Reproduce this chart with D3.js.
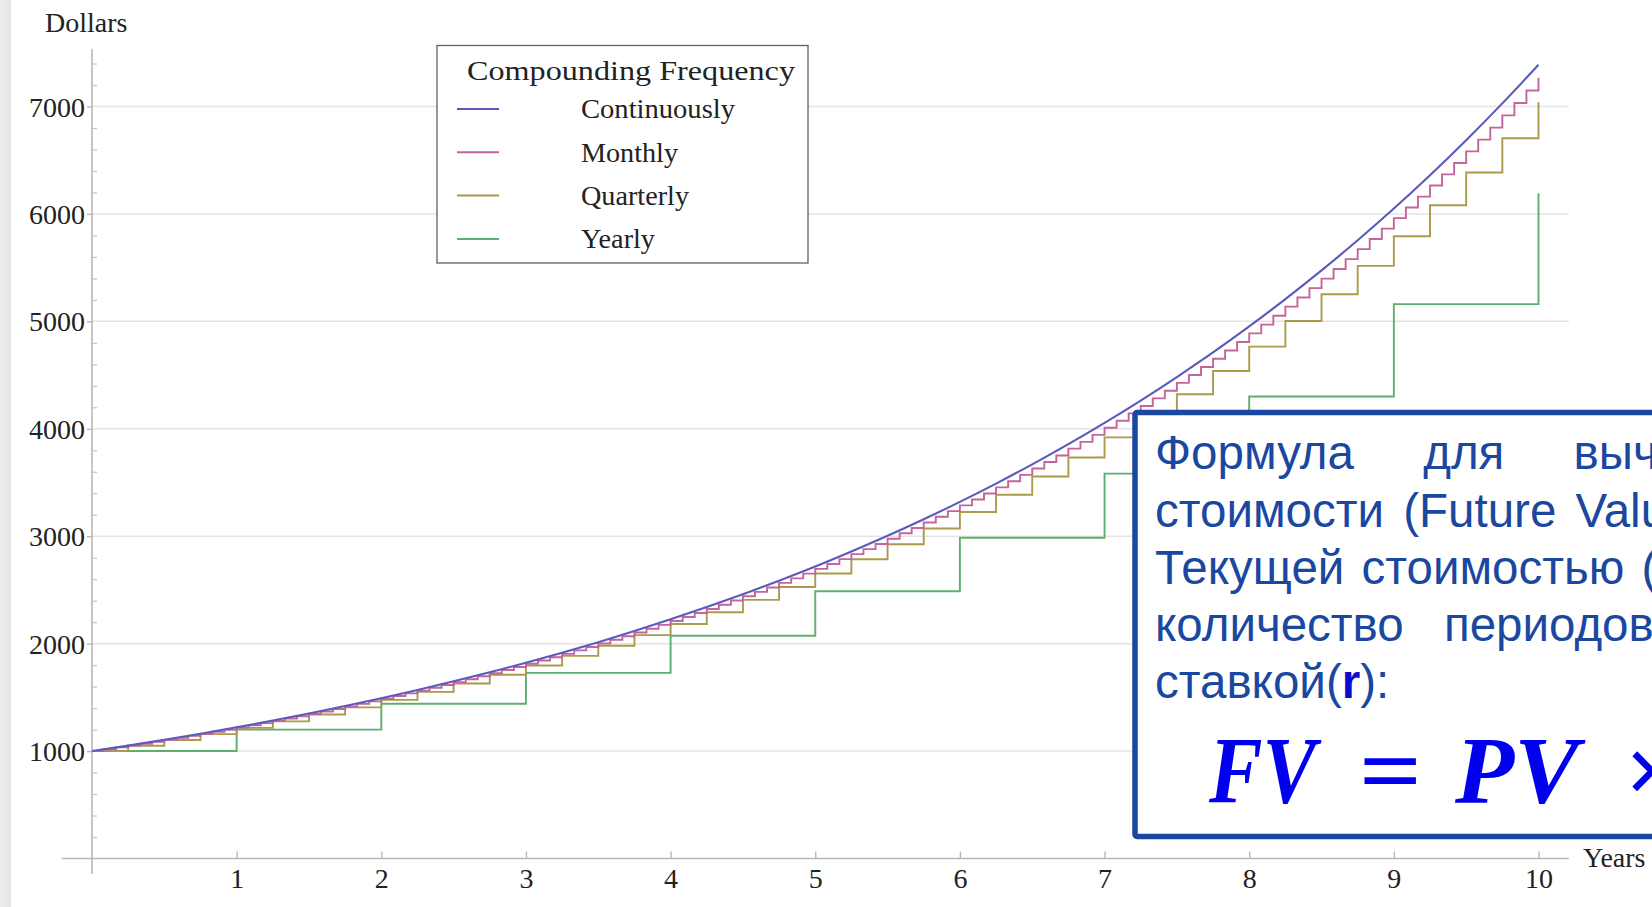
<!DOCTYPE html>
<html><head><meta charset="utf-8">
<script src="https://cdn.jsdelivr.net/npm/d3@7"></script>
<style>html,body{margin:0;padding:0;background:#fff;overflow:hidden}</style>
</head><body>
<svg id="c" width="1652" height="907"></svg>
<script>
// ---------- data ----------
const seriesNames = ["Continuously", "Monthly", "Quarterly", "Yearly"];
const seriesColors = ["#5a5abc", "#c4649a", "#aa9a4a", "#5eae6e"];
const periodsPerYear = [4, 12, 4, 1]; // sampling of each series (points per year)
const continuousValues = [1000, 1051, 1105, 1162, 1221, 1284, 1350, 1419, 1492, 1568, 1649,
  1733, 1822, 1916, 2014, 2117, 2226, 2340, 2460, 2586, 2718,
  2858, 3004, 3158, 3320, 3490, 3669, 3857, 4055, 4263, 4482,
  4711, 4953, 5207, 5474, 5755, 6050, 6360, 6686, 7029, 7389];
const monthlyValues = [1000, 1017, 1034, 1051, 1068, 1086, 1104, 1123, 1141, 1160, 1180, 1199, 1219,
  1240, 1260, 1281, 1303, 1324, 1347, 1369, 1392, 1415, 1439, 1463, 1487,
  1512, 1537, 1563, 1589, 1615, 1642, 1669, 1697, 1725, 1754, 1783, 1813,
  1843, 1874, 1905, 1937, 1969, 2002, 2036, 2069, 2104, 2139, 2175, 2211,
  2248, 2285, 2323, 2362, 2401, 2441, 2482, 2523, 2566, 2608, 2652, 2696,
  2741, 2787, 2833, 2880, 2928, 2977, 3027, 3077, 3128, 3181, 3234, 3287,
  3342, 3398, 3455, 3512, 3571, 3630, 3691, 3752, 3815, 3878, 3943, 4009,
  4075, 4143, 4212, 4283, 4354, 4427, 4500, 4575, 4652, 4729, 4808, 4888,
  4970, 5052, 5137, 5222, 5309, 5398, 5488, 5579, 5672, 5767, 5863, 5961,
  6060, 6161, 6264, 6368, 6474, 6582, 6692, 6803, 6917, 7032, 7149, 7268];
const quarterlyValues = [1000, 1050, 1103, 1158, 1216, 1276, 1340, 1407, 1477, 1551, 1629,
  1710, 1796, 1886, 1980, 2079, 2183, 2292, 2407, 2527, 2653,
  2786, 2925, 3072, 3225, 3386, 3556, 3733, 3920, 4116, 4322,
  4538, 4765, 5003, 5253, 5516, 5792, 6081, 6385, 6705, 7040];
const yearlyValues = [1000, 1200, 1440, 1728, 2074, 2488, 2986, 3583, 4300, 5160, 6192];
const xTicks = [1, 2, 3, 4, 5, 6, 7, 8, 9, 10];
const yTicks = [1000, 2000, 3000, 4000, 5000, 6000, 7000];
const xLabel = "Years", yLabel = "Dollars";
const legendTitle = "Compounding Frequency";
const boxLines = [
  "Формула для вычисления будущей",
  "стоимости (Future Value, FV) связана с",
  "Текущей стоимостью (Present Value, PV) через",
  "количество периодов (n) и процентной"
];

// ---------- chart ----------
const svg = d3.select("#c");
const serif = "'Liberation Serif','Times New Roman',serif";

// slide background strip at the left
const grad = svg.append("defs").append("linearGradient").attr("id", "lg");
grad.append("stop").attr("offset", "0%").attr("stop-color", "#eceef0");
grad.append("stop").attr("offset", "100%").attr("stop-color", "#e2e4e6");
svg.append("rect").attr("x", 0).attr("y", 0).attr("width", 11).attr("height", 907).attr("fill", "url(#lg)");

const x = d3.scaleLinear().domain([0, 10]).range([92, 1538.5]);
const y = d3.scaleLinear().domain([0, 7000]).range([858.5, 106.5]);

// grid
svg.append("g").selectAll("line").data(yTicks).join("line")
  .attr("x1", x(0)).attr("x2", x(10.21))
  .attr("y1", d => y(d)).attr("y2", d => y(d))
  .attr("stroke", "#e4e4e4").attr("stroke-width", 1.5);

// axes lines
svg.append("line").attr("x1", x(-0.21)).attr("x2", x(10.21)).attr("y1", y(0)).attr("y2", y(0))
  .attr("stroke", "#b8b8b8").attr("stroke-width", 1.6);
svg.append("line").attr("x1", x(0)).attr("x2", x(0)).attr("y1", y(7535)).attr("y2", y(-145))
  .attr("stroke", "#b8b8b8").attr("stroke-width", 1.6);

// x axis ticks + labels
const xa = svg.append("g").attr("transform", `translate(0,${y(0)})`)
  .call(d3.axisBottom(x).tickValues(xTicks).tickSize(-7).tickPadding(10).tickFormat(d3.format("d")));
xa.select(".domain").remove();
xa.selectAll("line").attr("stroke", "#b8b8b8").attr("stroke-width", 1.4);
xa.selectAll("text").attr("font-family", serif).attr("font-size", 28).attr("fill", "#222");

// y axis major ticks + labels
const ya = svg.append("g").attr("transform", `translate(${x(0)},0)`)
  .call(d3.axisLeft(y).tickValues(yTicks).tickSize(5).tickPadding(2).tickFormat(d3.format("d")));
ya.select(".domain").remove();
ya.selectAll("line").attr("stroke", "#b8b8b8").attr("stroke-width", 1.4);
ya.selectAll("text").attr("font-family", serif).attr("font-size", 28).attr("fill", "#222").attr("dy", "0.34em");

// y minor ticks
const minor = d3.range(200, 7500, 200).filter(v => v % 1000 !== 0);
const ym = svg.append("g").attr("transform", `translate(${x(0)},0)`)
  .call(d3.axisRight(y).tickValues(minor).tickSize(5).tickFormat(""));
ym.select(".domain").remove();
ym.selectAll("line").attr("stroke", "#c4c4c4").attr("stroke-width", 1.2);

// axis labels
svg.append("text").attr("x", 45).attr("y", 32).text(yLabel)
  .attr("font-family", serif).attr("font-size", 28).attr("fill", "#222");
svg.append("text").attr("x", 1583).attr("y", 867).text(xLabel)
  .attr("font-family", serif).attr("font-size", 28).attr("fill", "#222");

// series
const allValues = [continuousValues, monthlyValues, quarterlyValues, yearlyValues];
const lineSmooth = d3.line().x(d => x(d[0])).y(d => y(d[1])).curve(d3.curveCatmullRom);
const lineStep = d3.line().x(d => x(d[0])).y(d => y(d[1])).curve(d3.curveStepAfter);
// draw back to front: yearly, quarterly, monthly, continuous
[3, 2, 1, 0].forEach(i => {
  const pts = allValues[i].map((v, k) => [k / periodsPerYear[i], v]);
  svg.append("path").datum(pts)
    .attr("d", i === 0 ? lineSmooth : lineStep)
    .attr("fill", "none").attr("stroke", seriesColors[i])
    .attr("stroke-width", i === 0 ? 2.1 : 1.9).attr("stroke-linejoin", "miter");
});

// legend
const lg = svg.append("g");
lg.append("rect").attr("x", 437).attr("y", 45.5).attr("width", 371).attr("height", 217.5)
  .attr("fill", "#fff").attr("stroke", "#606060").attr("stroke-width", 1.3);
lg.append("text").attr("x", 467).attr("y", 79.5).text(legendTitle)
  .attr("font-family", serif).attr("font-size", 27.5).attr("fill", "#222")
  .attr("textLength", 328).attr("lengthAdjust", "spacingAndGlyphs");
const labW = [154, 97, 108, 74];
seriesNames.forEach((n, i) => {
  const by = 118.3 + i * 43.3;
  lg.append("line").attr("x1", 457).attr("x2", 499).attr("y1", by - 9.3).attr("y2", by - 9.3)
    .attr("stroke", seriesColors[i]).attr("stroke-width", 2);
  lg.append("text").attr("x", 581).attr("y", by).text(n)
    .attr("font-family", serif).attr("font-size", 27).attr("fill", "#222")
    .attr("textLength", labW[i]).attr("lengthAdjust", "spacingAndGlyphs");
});

// formula box
const sans = "'Liberation Sans',Arial,sans-serif";
const bx = svg.append("g");
bx.append("rect").attr("x", 1135).attr("y", 412.5).attr("width", 700).attr("height", 424)
  .attr("rx", 2).attr("fill", "#fff").attr("stroke", "#1a48a0").attr("stroke-width", 5.5);
const wsp = [56, 6, 4, 27];
boxLines.forEach((t, i) => {
  bx.append("text").attr("x", 1155).attr("y", 469.3 + i * 57.2).text(t)
    .attr("font-family", sans).attr("font-size", 47.5).attr("fill", "#1a48a0")
    .style("word-spacing", wsp[i] + "px");
});
const l5 = bx.append("text").attr("x", 1155).attr("y", 469.3 + 4 * 57.2)
  .attr("font-family", sans).attr("font-size", 47.5).attr("fill", "#1a48a0");
l5.append("tspan").text("ставкой(");
l5.append("tspan").text("r").attr("font-weight", "bold").attr("fill", "#0a0ad0");
l5.append("tspan").text("):");
const fm = [["FV", 1209, 107], ["=", 1359, 63], ["PV", 1455, 124], ["×", 1624, 0]];
fm.forEach(([t, px, w]) => {
  const tx = bx.append("text").attr("x", px).attr("y", 803).text(t)
    .attr("font-family", serif).attr("font-size", 95).attr("font-weight", "bold")
    .attr("font-style", t === "=" ? "normal" : "italic").attr("fill", "#0000ee");
  if (w) tx.attr("textLength", w).attr("lengthAdjust", "spacingAndGlyphs");
});
</script>
</body></html>
